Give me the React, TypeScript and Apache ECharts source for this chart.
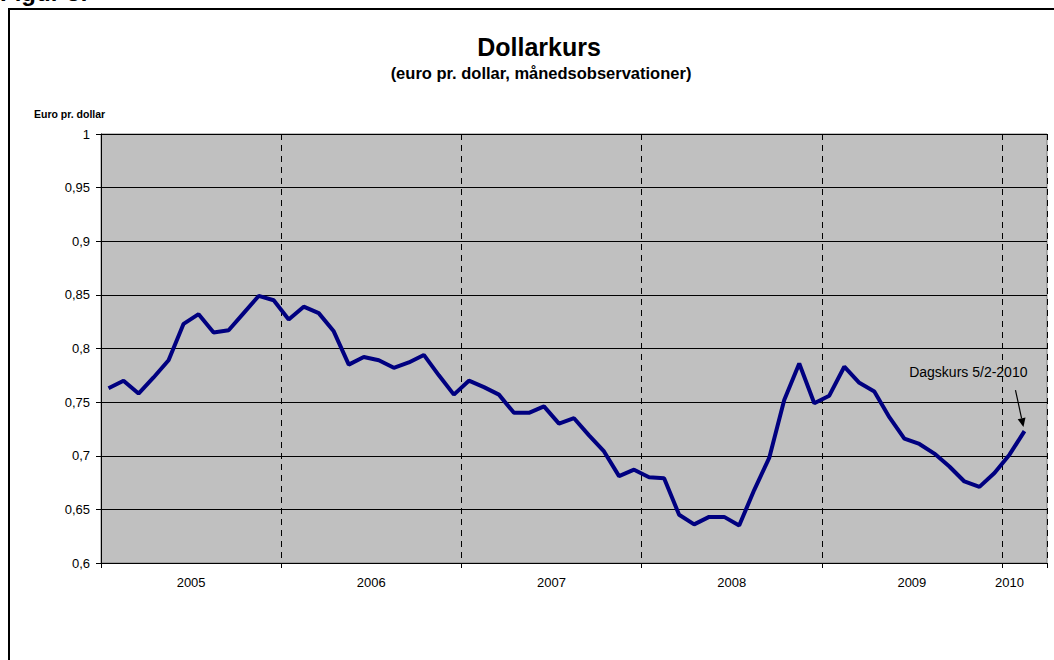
import React, { useEffect, useRef } from "react";
import * as echarts from "echarts";

// Monthly categories Jan 2005 – Mar 2010
const years = [2005, 2006, 2007, 2008, 2009, 2010];
const monthsInLastYear = 3;
const categories: string[] = [];
years.forEach((y) => {
  const n = y === 2010 ? monthsInLastYear : 12;
  for (let m = 1; m <= n; m++) categories.push(`${y}-${String(m).padStart(2, "0")}`);
});

// Euro per dollar, monthly observations (Jan 2005 – Feb 2010, last = daily rate 5/2-2010)
const rates2005 = [0.763, 0.770, 0.758, 0.773, 0.789, 0.823, 0.832, 0.815, 0.817, 0.833, 0.849, 0.845];
const rates2006 = [0.827, 0.839, 0.833, 0.816, 0.785, 0.792, 0.789, 0.782, 0.787, 0.794, 0.775, 0.757];
const rates2007 = [0.770, 0.764, 0.757, 0.740, 0.740, 0.746, 0.730, 0.735, 0.719, 0.704, 0.681, 0.687];
const rates2008 = [0.680, 0.679, 0.645, 0.636, 0.643, 0.643, 0.635, 0.668, 0.698, 0.752, 0.786, 0.749];
const rates2009 = [0.756, 0.783, 0.768, 0.760, 0.736, 0.716, 0.711, 0.702, 0.690, 0.676, 0.671, 0.684];
const rates2010 = [0.701, 0.723];
const rates = [...rates2005, ...rates2006, ...rates2007, ...rates2008, ...rates2009, ...rates2010];

// Year labels and the category index they sit on
const yearLabels = ["2005", "2006", "2007", "2008", "2009", "2010"];
const yearLabelIndex = [6, 18, 30, 42, 54, 60];

const FONT = "'Liberation Sans', Arial, Helvetica, sans-serif";

export default function App() {
  const ref = useRef<HTMLDivElement>(null);

  useEffect(() => {
    if (!ref.current) return;
    const chart = echarts.init(ref.current, null, { renderer: "svg" });
    const option: any = {
      animation: false,
      backgroundColor: "#ffffff",
      textStyle: { fontFamily: FONT },
      grid: {
        left: 101,
        right: 7,
        top: 134,
        bottom: 97,
        show: true,
        backgroundColor: "#c0c0c0",
        borderColor: "#808080",
        borderWidth: 1,
      },
      xAxis: {
        type: "category",
        data: categories,
        boundaryGap: true,
        axisLine: { show: true, lineStyle: { color: "#000", width: 1 } },
        axisTick: {
          show: true,
          length: 5,
          interval: (i: number) => i % 12 === 0,
          lineStyle: { color: "#000" },
        },
        splitLine: {
          show: true,
          interval: (i: number) => i % 12 === 0 && i > 0,
          lineStyle: { color: "#000", type: [6, 5], width: 1 },
        },
        axisLabel: {
          interval: 0,
          margin: 13,
          color: "#000",
          fontSize: 13,
          fontFamily: FONT,
          formatter: (_v: string, idx: number) => {
            const k = yearLabelIndex.indexOf(idx);
            if (k < 0) return "";
            return k < yearLabels.length - 1 ? `{full|${yearLabels[k]}}` : `{part|${yearLabels[k]}}`;
          },
          rich: {
            full: { padding: [0, 15, 0, 0], fontSize: 13, fontFamily: FONT, color: "#000" },
            part: { fontSize: 13, fontFamily: FONT, color: "#000" },
          },
        },
      },
      yAxis: {
        type: "value",
        min: 0.6,
        max: 1,
        interval: 0.05,
        axisLine: { show: true, lineStyle: { color: "#000", width: 1 } },
        axisTick: { show: true, length: 5, lineStyle: { color: "#000" } },
        splitLine: { show: true, lineStyle: { color: "#000", width: 1 } },
        axisLabel: {
          margin: 11,
          color: "#000",
          fontSize: 13,
          fontFamily: FONT,
          formatter: (v: number) => String(Number(v.toFixed(2))).replace(".", ","),
        },
      },
      series: [
        {
          type: "line",
          data: rates,
          symbol: "none",
          lineStyle: { color: "#000080", width: 4 },
          itemStyle: { color: "#000080" },
        },
      ],
    };
    chart.setOption(option);

    const last = rates.length - 1;
    const p = chart.convertToPixel({ gridIndex: 0 }, [categories[last], rates[last]]) as number[];
    const tip = [p[0] - 1, p[1] - 4];
    const start = [p[0] - 9, p[1] - 41];
    const dx = tip[0] - start[0];
    const dy = tip[1] - start[1];
    const len = Math.sqrt(dx * dx + dy * dy);
    const ux = dx / len;
    const uy = dy / len;
    const headL = 9;
    const headW = 4;
    const base = [tip[0] - ux * headL, tip[1] - uy * headL];
    const left = [base[0] - uy * headW, base[1] + ux * headW];
    const right = [base[0] + uy * headW, base[1] - ux * headW];

    chart.setOption({
      graphic: [
        {
          type: "rect",
          shape: { x: 9, y: 9, width: 1200, height: 800 },
          style: { fill: "none", stroke: "#000", lineWidth: 2 },
          silent: true,
        },
        {
          type: "text",
          x: 0,
          y: 4,
          style: { text: "Figur 5:", font: `bold 24px ${FONT}`, fill: "#000", verticalAlign: "bottom" },
        },
        {
          type: "text",
          x: 539,
          y: 47,
          style: {
            text: "Dollarkurs",
            font: `bold 25px ${FONT}`,
            fill: "#000",
            align: "center",
            verticalAlign: "middle",
          },
        },
        {
          type: "text",
          x: 541,
          y: 73,
          style: {
            text: "(euro pr. dollar, månedsobservationer)",
            font: `bold 16.5px ${FONT}`,
            fill: "#000",
            align: "center",
            verticalAlign: "middle",
          },
        },
        {
          type: "text",
          x: 34,
          y: 114,
          style: {
            text: "Euro pr. dollar",
            font: `bold 10.5px ${FONT}`,
            fill: "#000",
            align: "left",
            verticalAlign: "middle",
          },
        },
        {
          type: "text",
          x: p[0] + 3,
          y: p[1] - 59,
          style: {
            text: "Dagskurs 5/2-2010",
            font: `14px ${FONT}`,
            fill: "#000",
            align: "right",
            verticalAlign: "middle",
          },
        },
        {
          type: "line",
          shape: { x1: start[0], y1: start[1], x2: base[0], y2: base[1] },
          style: { stroke: "#000", lineWidth: 1.2 },
        },
        {
          type: "polygon",
          shape: { points: [tip, left, right] },
          style: { fill: "#000" },
        },
      ],
    });

    return () => chart.dispose();
  }, []);

  return (
    <div
      ref={ref}
      style={{ position: "absolute", left: 0, top: 0, width: 1054, height: 660 }}
    />
  );
}
